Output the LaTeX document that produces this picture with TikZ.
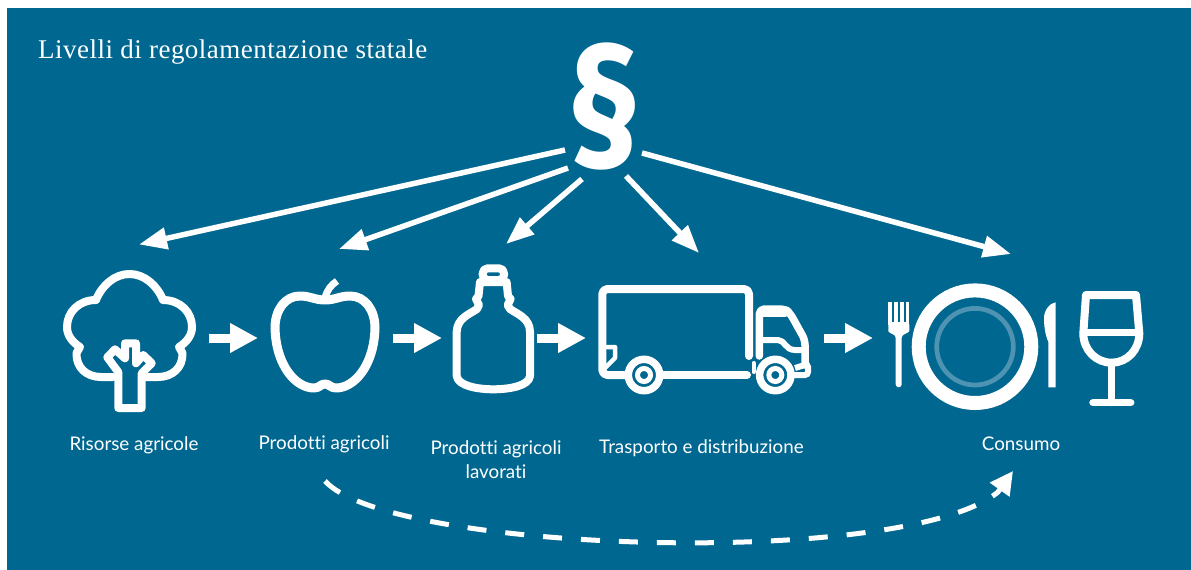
\documentclass[tikz,border=0pt]{standalone}
\usepackage{fontspec}
\setmainfont{Lato}[Ligatures=NoCommon]
\newfontfamily\titlefont[LetterSpace=1.8]{Liberation Serif}
\newfontfamily\parafont{Fira Sans}
\usetikzlibrary{arrows.meta, positioning}
\definecolor{panelblue}{HTML}{006790}
\definecolor{ringblue}{HTML}{4F93B2}
\tikzset{
  icon/.style={draw=white, line width=8pt, line join=round, line cap=round},
  caption/.style={text=white, font=\fontsize{18.8}{24}\selectfont, align=center},
  lawarrow/.style={draw=white, line width=5.5pt, -{Triangle[length=28pt,width=21pt]}},
  stagearrow/.style={draw=white, line width=9pt, -{Triangle[length=28pt,width=28pt]}},
  skiparrow/.style={draw=white, line width=5pt, dash pattern=on 19pt off 19pt, -{Triangle[length=23pt,width=23pt]}}
}

\begin{document}
\begin{tikzpicture}[x=1pt,y=-1pt]
  \useasboundingbox (0,0) rectangle (1191,570);
  \fill[panelblue] (7,8) rectangle (1191,570);

  \node[text=white, anchor=west, inner sep=0pt, font=\titlefont\fontsize{27}{32}\selectfont] (title) at (38,52) {Livelli di regolamentazione statale};
  \node[text=white, inner sep=0pt, xscale=0.84, font=\parafont\bfseries\fontsize{165}{170}\selectfont] (para) at (604.5,107) {§};

  % tree
  \draw[icon] (96,300) .. controls (102,285) and (115,274) .. (129.5,274) .. controls (144,274) and (157,285) .. (163,300)
    .. controls (180,300) and (192,312) .. (192,327) .. controls (192,335) and (187,342) .. (179,347)
    -- (182.5,353) .. controls (183,368) and (172,377) .. (158,377) -- (146,377);
  \draw[icon] (113,377) -- (101,377) .. controls (87,377) and (76,368) .. (76.5,353) -- (80,347)
    .. controls (72,342) and (67,335) .. (67,327) .. controls (67,312) and (79,300) .. (96,300);
  \draw[icon] (118.3,372) -- (107.3,357.3) -- (115,349.3) -- (125,358.3) -- (125,343.3) -- (136,343.3) -- (136,363.3)
    -- (143.3,355) -- (151.7,363.3) -- (141.7,373.3) -- (141.7,408) -- (118.3,408) -- cycle;

  % apple
  \draw[icon, line width=9pt] (325,300) .. controls (315,300) and (310,296) .. (300,296) .. controls (285,296) and (275,310) .. (275,328)
    .. controls (276,366) and (296,388) .. (314,388) .. controls (320,388) and (320,384) .. (325,384)
    .. controls (330,384) and (330,388) .. (336,388) .. controls (354,388) and (374,366) .. (375,328)
    .. controls (375,310) and (365,296) .. (350,296) .. controls (340,296) and (335,300) .. (325,300) -- cycle;
  \draw[draw=white, line width=7pt] (325,298) .. controls (327,290) and (331,285) .. (337,281);

  % bottle
  \draw[icon, rounded corners=5pt] (482.7,280) rectangle (504,268.3);
  \draw[icon] (480,282) -- (478.5,296) -- (476,299) -- (479,305) -- (477,309) .. controls (470,314) and (457,318) .. (456.7,332)
    -- (456.7,376) .. controls (458,386) and (478,389.3) .. (493.3,389.3) .. controls (509,389.3) and (529,386) .. (530,376)
    -- (530,332) .. controls (530,318) and (517,314) .. (510,309) -- (507.6,305) -- (510.6,299) -- (508,296) -- (506.6,282) -- cycle;

  % truck
  \draw[icon, rounded corners=5pt] (626,375) -- (602.3,375) -- (602.3,289) -- (749,289) -- (749,356);
  \draw[icon] (663,375) -- (747,375);
  \draw[icon, line width=4.5pt] (607,347) -- (615,347) -- (615,358) -- (605,368);
  \draw[icon, line width=4pt] (753.5,363) -- (753.5,372);
  \draw[icon, line width=7.5pt, rounded corners=5pt] (759.3,356) -- (759.3,309) -- (785,309) -- (790,313) -- (805,340) -- (805,365);
  \draw[icon, line width=4.5pt] (763,315) -- (785,315);
  \draw[icon, line width=6pt] (762,340) -- (778,340) .. controls (785,340) and (785,350) .. (795,350) -- (804,350);
  \foreach \wheelx in {644,775.3} {
    \draw[draw=white, line width=7.5pt] (\wheelx,375) circle (15.7);
    \draw[draw=white, line width=5pt] (\wheelx,375) circle (6.5);
  }
  \draw[draw=white, line width=6pt, rounded corners=3pt] (795,368) -- (808,364) -- (808,375) -- (794,375);

  % plate, fork and knife
  \draw[draw=white, line width=14pt] (975,346.7) circle (56.3);
  \draw[draw=ringblue, line width=4.7pt] (975,346.7) circle (38.3);
  \foreach \tinex in {890,896,902,907.6} {
    \fill[white] (\tinex-1.7,302.3) rectangle (\tinex+1.7,325);
  }
  \fill[white, rounded corners=3pt] (888.3,322) -- (909.3,322) -- (909.3,328) .. controls (909.3,332) and (905,334) .. (901.7,335)
    -- (901.7,387.3) -- (895.7,387.3) -- (895.7,335) .. controls (892,334) and (888.3,332) .. (888.3,328) -- cycle;
  \fill[white] (1055.7,302.3) -- (1055.7,387.3) -- (1048.3,387.3) -- (1048.3,341.7) .. controls (1045,335) and (1044,325) .. (1044,318)
    .. controls (1044,310) and (1050,303) .. (1055.7,302.3) -- cycle;

  % wine glass
  \draw[icon] (1086,295) -- (1136,295) -- (1139.3,333.3) .. controls (1139.3,350) and (1127,362.7) .. (1111.7,362.7)
    .. controls (1096,362.7) and (1083.3,350) .. (1083.3,333.3) -- cycle;
  \draw[icon, line width=7pt] (1083.3,332) -- (1139.3,332);
  \draw[icon, line width=7pt] (1111.7,362.7) -- (1111.7,402.7);
  \draw[icon, line width=7.5pt] (1093,402.7) -- (1130.7,402.7);

  % captions
  \node[caption] (l_res) at (134,445) {Risorse agricole};
  \node[caption] (l_prod) at (324,444) {Prodotti agricoli};
  \node[caption] (l_lav) at (496,460) {Prodotti agricoli\\lavorati};
  \node[caption] (l_tra) at (701.5,448) {Trasporto e distribuzione};
  \node[caption] (l_con) at (1021,444) {Consumo};

  % ends of the arrows
  \coordinate (p1) at (565,150);
  \coordinate (p2) at (568,168);
  \coordinate (p3) at (582,179);
  \coordinate (p4) at (626,176);
  \coordinate (p5) at (642,153);
  \coordinate (res) at (139,244.5);
  \coordinate (prod) at (339,249);
  \coordinate (lav) at (506,244);
  \coordinate (tra) at (699,253);
  \coordinate (con) at (1011,254);

  \foreach \from/\to in {p1/res, p2/prod, p3/lav, p4/tra, p5/con} {
    \draw[lawarrow] (\from) -- (\to);
  }

  \coordinate (s1) at (209,338);
  \coordinate (e1) at (258,338);
  \coordinate (s2) at (393,338);
  \coordinate (e2) at (442,338);
  \coordinate (s3) at (537,338);
  \coordinate (e3) at (586,338);
  \coordinate (s4) at (824,338);
  \coordinate (e4) at (873,338);
  \foreach \i in {1,...,4} {
    \draw[stagearrow] (s\i) -- (e\i);
  }

  \coordinate (skipstart) at (325,481);
  \coordinate (skipbend) at (998,492);
  \coordinate (skipend) at (1013,471);
  \draw[skiparrow] (skipstart) .. controls (390,553) and (905,569) .. (skipbend) -- (skipend);
\end{tikzpicture}
\end{document}
